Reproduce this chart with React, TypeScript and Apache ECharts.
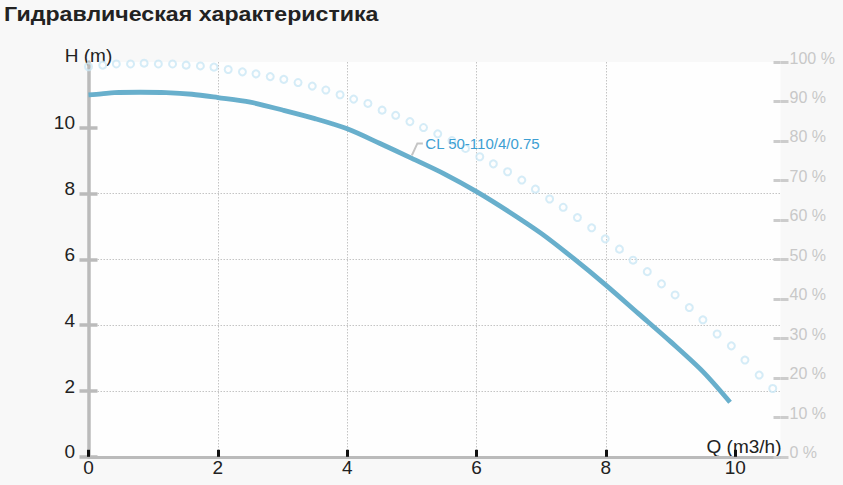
import React, { useEffect, useRef } from "react";
import * as echarts from "echarts";

const TITLE = "Гидравлическая характеристика";
const SERIES_NAME = "CL 50-110/4/0.75";
const X_NAME = "Q (m3/h)";
const Y_NAME = "H (m)";

// Head curve H(Q)
const headQ = [0, 0.2, 0.4, 0.8, 1.2, 1.6, 2.0, 2.5, 3.0, 3.5, 4.0, 4.5, 5.0, 5.5, 6.0, 6.5, 7.0, 7.5, 8.0, 8.5, 9.0, 9.5, 9.92];
const headH = [11.0, 11.03, 11.07, 11.08, 11.07, 11.02, 10.92, 10.78, 10.54, 10.28, 9.97, 9.53, 9.07, 8.6, 8.06, 7.45, 6.79, 6.03, 5.22, 4.36, 3.5, 2.59, 1.66];

// Efficiency curve (%)
const effQ = [0, 0.22, 0.43, 0.65, 0.86, 1.08, 1.3, 1.51, 1.73, 1.94, 2.16, 2.38, 2.59, 2.81, 3.02, 3.24, 3.46, 3.67, 3.89, 4.1, 4.32, 4.54, 4.75, 4.97, 5.18, 5.4, 5.62, 5.83, 6.05, 6.26, 6.48, 6.7, 6.91, 7.13, 7.34, 7.56, 7.78, 7.99, 8.21, 8.42, 8.64, 8.86, 9.07, 9.29, 9.5, 9.72, 9.94, 10.15, 10.37, 10.58];
const effPct = [98.8, 99.2, 99.5, 99.5, 99.7, 99.5, 99.5, 99.2, 99.0, 98.7, 98.1, 97.5, 97.0, 96.3, 95.6, 94.8, 93.9, 92.9, 91.7, 90.6, 89.5, 87.8, 86.5, 84.9, 83.4, 81.8, 80.1, 78.1, 76.0, 74.2, 72.2, 70.1, 67.8, 65.3, 63.2, 60.6, 58.0, 55.2, 52.6, 49.8, 46.9, 43.8, 41.0, 37.8, 34.7, 31.1, 28.1, 24.5, 20.7, 17.3];

const xTicks = [0, 2, 4, 6, 8, 10];
const hTicks = [0, 2, 4, 6, 8, 10];
const labelAnchor = [5.0, 9.07];

const FONT = "'Liberation Sans', Arial, sans-serif";

export default function App() {
  const ref = useRef<HTMLDivElement>(null);
  useEffect(() => {
    document.body.style.margin = "0";
    document.body.style.background = "#f8f8f8";
    const chart = echarts.init(ref.current!, null, { renderer: "svg" });
    const dotted = { color: "#c4c4c4", width: 1, type: [1.5, 1.5] as any };
    chart.setOption({
      animation: false,
      backgroundColor: "#f8f8f8",
      textStyle: { fontFamily: FONT },
      grid: {
        left: 88.5,
        right: 62.5,
        top: 62,
        bottom: 28.2,
        show: true,
        backgroundColor: "#fefefe",
        borderWidth: 0,
        outerBoundsMode: "none",
      },
      xAxis: {
        type: "value",
        min: 0,
        max: 10.7,
        interval: 2,
        name: X_NAME,
        nameLocation: "end",
        nameGap: 1,
        nameMoveOverlap: false,
        nameTextStyle: { fontSize: 19, color: "#222", align: "right", verticalAlign: "bottom", lineHeight: 21, fontFamily: FONT },
        axisLine: { show: true, onZero: false, lineStyle: { color: "#bbbbbb", width: 3 } },
        axisTick: { show: true, inside: true, length: 7, customValues: xTicks, lineStyle: { color: "#111", width: 3 } },
        axisLabel: { customValues: xTicks, fontSize: 19, color: "#222", margin: 1, lineHeight: 19, fontFamily: FONT },
        splitLine: { show: true, showMinLine: false, showMaxLine: false, lineStyle: dotted },
      },
      yAxis: [
        {
          type: "value",
          position: "left",
          min: 0,
          max: 12,
          interval: 2,
          offset: 0,
          name: Y_NAME,
          nameLocation: "end",
          nameGap: 0,
          nameMoveOverlap: false,
          nameTextStyle: { fontSize: 19, color: "#222", align: "center", verticalAlign: "bottom", lineHeight: 14, fontFamily: FONT },
          axisLine: { show: true, lineStyle: { color: "#bbbbbb", width: 3.5 } },
          axisTick: { show: true, inside: false, length: 9, customValues: hTicks, lineStyle: { color: "#bbbbbb", width: 3.5 } },
          axisLabel: { customValues: hTicks, fontSize: 19, color: "#222", margin: 13.5, verticalAlign: "bottom", lineHeight: 10, fontFamily: FONT },
          splitLine: { show: true, showMinLine: false, showMaxLine: false, lineStyle: dotted },
        },
        {
          type: "value",
          position: "right",
          min: 0,
          max: 100,
          interval: 10,
          offset: 0,
          axisLine: { show: false },
          axisTick: { show: true, inside: false, length: 8, lineStyle: { color: "#cccccc", width: 3 } },
          axisLabel: { formatter: "{value} %", fontSize: 16, color: "#c8c8c8", margin: 9, verticalAlign: "bottom", lineHeight: 8, fontFamily: FONT },
          splitLine: { show: false },
        },
        {
          type: "value",
          position: "left",
          min: 0,
          max: 12,
          interval: 2,
          offset: 0,
          axisLine: { show: false },
          axisTick: { show: true, inside: true, length: 9, customValues: hTicks, lineStyle: { color: "#bbbbbb", width: 3.5 } },
          axisLabel: { show: false },
          splitLine: { show: false },
        },
        {
          type: "value",
          position: "right",
          min: 0,
          max: 100,
          interval: 10,
          offset: 0,
          axisLine: { show: false },
          axisTick: { show: true, inside: true, length: 7, lineStyle: { color: "#cccccc", width: 3 } },
          axisLabel: { show: false },
          splitLine: { show: false },
        },
      ],
      series: [
        {
          name: "eff",
          type: "scatter",
          yAxisIndex: 1,
          symbol: "circle",
          symbolSize: 7,
          itemStyle: { color: "rgba(255,255,255,0)", borderColor: "#cbe7f5", borderWidth: 2 },
          data: effQ.map((q, i) => [q, effPct[i]]),
          z: 2,
        },
        {
          name: SERIES_NAME,
          type: "line",
          yAxisIndex: 0,
          smooth: 0.3,
          showSymbol: false,
          lineStyle: { color: "#68afcc", width: 4.8 },
          data: headQ.map((q, i) => [q, headH[i]]),
          z: 3,
        },
      ],
    });

    const p = chart.convertToPixel({ xAxisIndex: 0, yAxisIndex: 0 }, labelAnchor) as number[];
    chart.setOption({
      graphic: [
        {
          type: "text",
          x: 4,
          y: 13.6,
          scaleX: 1.13,
          style: { text: TITLE, fontSize: 20.5, fontWeight: "bold", fill: "#222", fontFamily: FONT, verticalAlign: "middle", align: "left" },
        },
        {
          type: "polyline",
          shape: { points: [[p[0], p[1] - 3], [p[0] + 5.5, p[1] - 15], [p[0] + 11, p[1] - 15]] },
          style: { stroke: "#c4c4c4", lineWidth: 2, fill: "none" },
          z: 10,
        },
        {
          type: "text",
          x: p[0] + 13.5,
          y: p[1] - 15,
          style: { text: SERIES_NAME, fontSize: 15, fill: "#3d9fd3", fontFamily: FONT, verticalAlign: "middle", align: "left" },
          z: 10,
        },
      ],
    });
    return () => chart.dispose();
  }, []);
  return <div ref={ref} style={{ position: "fixed", left: 0, top: 0, width: 843, height: 485 }} />;
}
